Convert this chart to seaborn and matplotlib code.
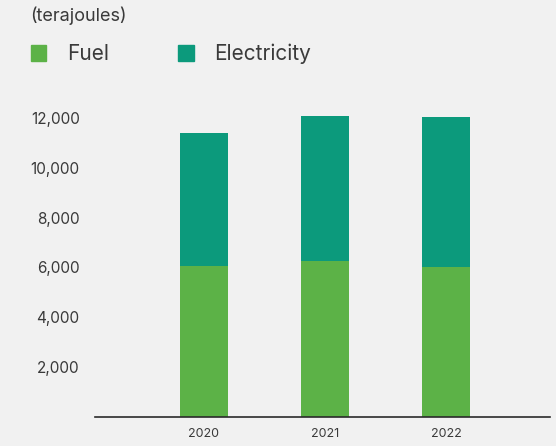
import matplotlib
matplotlib.use("Agg")
from matplotlib import pyplot as plt
from matplotlib.patches import Patch
import seaborn as sns
import pandas as pd

# data (terajoules)
years = ["2020", "2021", "2022"]
fuel = [6050, 6250, 6010]
electricity = [5330, 5810, 6010]

FUEL_COLOR = "#5cb247"
ELEC_COLOR = "#0c9a7c"
BG = "#f1f1f1"
TEXT = "#3a3a3a"

sns.set_theme(style="white")
plt.rcParams["font.family"] = ["Inter", "DejaVu Sans"]

df = pd.DataFrame({"year": years, "fuel": fuel, "electricity": electricity})
df["total"] = df["fuel"] + df["electricity"]

fig = plt.figure(figsize=(5.56, 4.46), dpi=100, facecolor=BG)
ax = fig.add_axes([0.1709, 0.0650, 0.8183, 0.704])
ax.set_facecolor(BG)

# stacked bars: total first (electricity on top), fuel drawn over it
sns.barplot(data=df, x="year", y="total", color=ELEC_COLOR, width=0.4,
            saturation=1, linewidth=0, ax=ax)
sns.barplot(data=df, x="year", y="fuel", color=FUEL_COLOR, width=0.4,
            saturation=1, linewidth=0, ax=ax)

ax.set_xlim(-0.90, 2.86)
ax.set_ylim(0, 12600)
ax.set_yticks([2000, 4000, 6000, 8000, 10000, 12000])
ax.set_yticklabels([f"{v:,}" for v in [2000, 4000, 6000, 8000, 10000, 12000]])
ax.set_xlabel("")
ax.set_ylabel("")

for side in ["top", "right", "left"]:
    ax.spines[side].set_visible(False)
ax.spines["bottom"].set_color("#2a2a2a")
ax.spines["bottom"].set_linewidth(1.2)

ax.tick_params(axis="y", length=0, pad=11, labelsize=11, labelcolor=TEXT)
ax.tick_params(axis="x", length=0, pad=8, labelsize=9, labelcolor=TEXT)

fig.text(30 / 556, 1 - 16 / 446, "(terajoules)", fontsize=13, color=TEXT,
         va="center", ha="left")

handles = [Patch(color=FUEL_COLOR, label="Fuel"),
           Patch(color=ELEC_COLOR, label="Electricity")]
fig.legend(handles=handles, loc="center left",
           bbox_to_anchor=(12 / 556, 1 - 54 / 446), ncol=2, frameon=False,
           fontsize=15, handlelength=0.75, handleheight=0.75,
           handletextpad=1.0, columnspacing=3.3, labelcolor=TEXT)

plt.savefig("out.png", dpi=100, facecolor=BG)
